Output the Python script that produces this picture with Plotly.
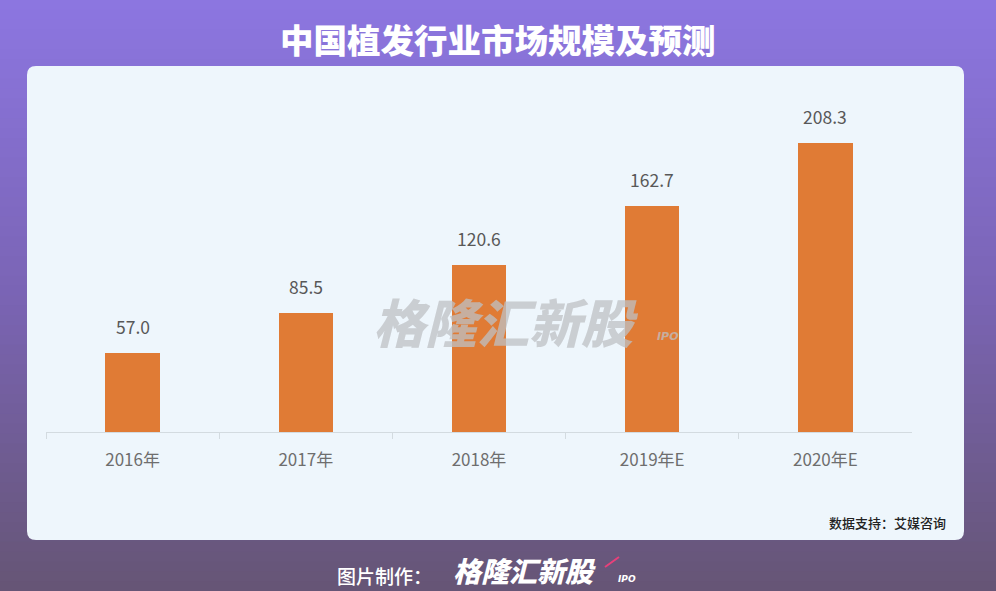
import plotly.graph_objects as go

categories = ["2016年", "2017年", "2018年", "2019年E", "2020年E"]
values = [57.0, 85.5, 120.6, 162.7, 208.3]
value_labels = ["57.0", "85.5", "120.6", "162.7", "208.3"]

title_text = "中国植发行业市场规模及预测"
source_text = "数据支持：艾媒咨询"
footer_label = "图片制作："
brand_text = "格隆汇新股"

W, H = 996, 591
CJK = "Noto Sans CJK SC"


def px(x):
    return x / W


def py(y):
    return 1 - y / H


def lerp(c1, c2, t):
    return "rgb(%d,%d,%d)" % tuple(round(a + (b - a) * t) for a, b in zip(c1, c2))


shapes = []
# background gradient (purple top -> dark mauve bottom)
top_c = (140, 118, 224)
mid_c = (122, 100, 180)
bot_c = (102, 85, 118)
n = 60
for i in range(n):
    t = i / (n - 1)
    if t < 0.5:
        col = lerp(top_c, mid_c, t / 0.5)
    else:
        col = lerp(mid_c, bot_c, (t - 0.5) / 0.5)
    shapes.append(dict(type="rect", xref="paper", yref="paper", layer="below",
                       x0=0, x1=1, y0=1 - (i + 1) / n - 0.002, y1=1 - i / n,
                       fillcolor=col, line=dict(width=0)))

# rounded panel
x0, x1, y0, y1, r = 27, 964, 66, 540, 9
path = (f"M {px(x0 + r)},{py(y0)} L {px(x1 - r)},{py(y0)} "
        f"Q {px(x1)},{py(y0)} {px(x1)},{py(y0 + r)} "
        f"L {px(x1)},{py(y1 - r)} Q {px(x1)},{py(y1)} {px(x1 - r)},{py(y1)} "
        f"L {px(x0 + r)},{py(y1)} Q {px(x0)},{py(y1)} {px(x0)},{py(y1 - r)} "
        f"L {px(x0)},{py(y0 + r)} Q {px(x0)},{py(y0)} {px(x0 + r)},{py(y0)} Z")
shapes.append(dict(type="path", xref="paper", yref="paper", layer="below",
                   path=path, fillcolor="#eef6fc", line=dict(width=0)))

# small pink arrow in footer logo
shapes.append(dict(type="line", xref="paper", yref="paper",
                   x0=px(605), y0=py(567), x1=px(619), y1=py(557),
                   line=dict(color="#e8407a", width=2)))

fig = go.Figure()
fig.add_trace(go.Bar(
    x=categories, y=values, width=0.315,
    marker=dict(color="#e07b35", line=dict(width=0)),
    hoverinfo="skip",
))

annotations = []
for c, v, lab in zip(categories, values, value_labels):
    annotations.append(dict(x=c, y=v, xref="x", yref="y", text=lab, showarrow=False,
                            yanchor="bottom", yshift=12,
                            font=dict(family=CJK, size=17.5, color="#585858")))

annotations += [
    dict(x=0.5, y=py(38), xref="paper", yref="paper", text=title_text,
         showarrow=False, xanchor="center", yanchor="middle",
         font=dict(family=CJK, size=33.5, color="white", weight=900)),
    dict(x=px(948), y=py(522), xref="paper", yref="paper", text=source_text,
         showarrow=False, xanchor="right", yanchor="middle",
         font=dict(family=CJK, size=13, color="#222222", weight=500)),
    dict(x=px(506), y=py(320), xref="paper", yref="paper", text=f"<i>{brand_text}</i>",
         showarrow=False, xanchor="center", yanchor="middle",
         font=dict(family=CJK, size=52, color="rgba(190,192,196,0.75)", weight=900)),
    dict(x=px(668), y=py(336), xref="paper", yref="paper", text="<b><i>IPO</i></b>",
         showarrow=False, xanchor="center", yanchor="middle",
         font=dict(family="DejaVu Sans", size=11, color="rgba(190,192,196,0.75)")),
    dict(x=px(434), y=py(575), xref="paper", yref="paper", text=footer_label,
         showarrow=False, xanchor="right", yanchor="middle",
         font=dict(family=CJK, size=19, color="white", weight=500)),
    dict(x=px(524), y=py(570), xref="paper", yref="paper", text=f"<i>{brand_text}</i>",
         showarrow=False, xanchor="center", yanchor="middle",
         font=dict(family=CJK, size=28, color="white", weight=900)),
    dict(x=px(627), y=py(579), xref="paper", yref="paper", text="<b><i>IPO</i></b>",
         showarrow=False, xanchor="center", yanchor="middle",
         font=dict(family="DejaVu Sans", size=9, color="white")),
]

fig.update_layout(
    width=W, height=H,
    margin=dict(l=0, r=0, t=0, b=0),
    paper_bgcolor="#7a64b4",
    plot_bgcolor="rgba(0,0,0,0)",
    showlegend=False,
    shapes=shapes,
    annotations=annotations,
    bargap=0.0,
    xaxis=dict(
        domain=[px(46), px(912)],
        showline=True, linecolor="#d3dbe0", linewidth=1,
        ticks="outside", tickson="boundaries", ticklen=6, tickcolor="#d3dbe0",
        ticklabelstandoff=13,
        tickfont=dict(family=CJK, size=17, color="#6e6e6e"),
        showgrid=False, fixedrange=True,
    ),
    yaxis=dict(
        domain=[py(432), py(100)],
        range=[0, (432 - 100) / (289 / 208.3)],
        visible=False, showgrid=False, fixedrange=True,
    ),
)

fig.write_html(
    "out.html",
    config={"displayModeBar": False},
    post_script="document.body.style.margin='0';document.body.style.overflow='hidden';",
)
